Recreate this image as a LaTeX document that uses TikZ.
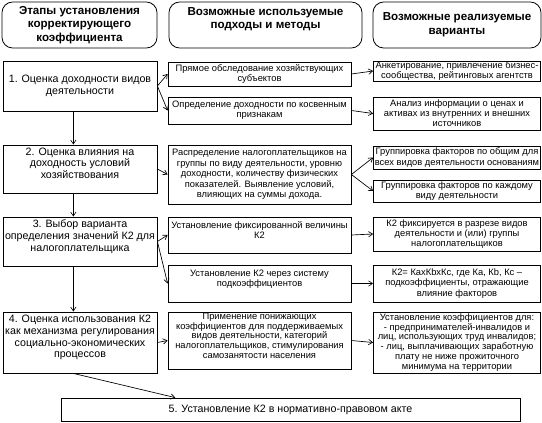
\documentclass[tikz,border=0pt]{standalone}
\usepackage{fontspec}
\setmainfont{Liberation Sans}
\usetikzlibrary{arrows.meta,positioning}

\tikzset{every picture/.style={line width=0.6pt}}
\tikzset{
  head/.style={draw, rounded corners=8pt, align=center, inner sep=1pt, minimum height=34.5pt, font=\bfseries\fontsize{8.7}{10.2}\selectfont},
  stage/.style={draw, align=center, inner sep=1pt, minimum width=115.5pt, font=\fontsize{8}{8.8}\selectfont},
  way/.style={draw, align=center, inner sep=1pt, minimum width=137.25pt, font=\fontsize{7}{7.8}\selectfont},
  variant/.style={draw, align=center, inner sep=1pt, minimum width=125.25pt, font=\fontsize{7}{7.6}\selectfont},
  arr/.style={-{Straight Barb[length=3pt,width=4pt]}, line width=0.5pt},
}

\begin{document}
\begin{tikzpicture}[x=0.75pt,y=0.75pt,yscale=-1,xscale=1]
\useasboundingbox (0,0) rectangle (542,422);

%Headers
\node [head, minimum width=116.25pt] (h1) at (79.5,25) {Этапы установления\\корректирующего\\коэффициента};
\node [head, minimum width=144.75pt] (h2) at (265.5,25) {Возможные используемые\\подходы и методы\\\mbox{}};
\node [head, minimum width=126pt] (h3) at (457,25) {Возможные реализуемые\\варианты};

%Stages
\node [stage, minimum height=37.5pt] (b1) at (80,86) {1. Оценка доходности видов\\деятельности};
\node [stage, minimum height=36pt] (b2) at (80,169) {2. Оценка влияния на\\доходность условий\\хозяйствования\\\mbox{}};
\node [stage, minimum height=36.75pt] (b3) at (80,241.5) {3. Выбор варианта\\определения значений К2 для\\налогоплательщика\\\mbox{}};
\node [stage, minimum height=45.75pt] (b4) at (80,342.5) {4. Оценка использования К2\\как механизма регулирования\\социально-экономических\\процессов\\\mbox{}};
\node [stage, minimum width=344.25pt, minimum height=17.25pt] (b5) at (290.5,409.5) {5. Установление К2 в нормативно-правовом акте};

%Approaches and methods
\node [way, minimum height=18pt] (m1) at (259.5,74) {Прямое обследование хозяйствующих\\субъектов};
\node [way, minimum height=20.25pt] (m2) at (259.5,110.5) {Определение доходности по косвенным\\признакам};
\node [way, minimum height=44.25pt] (m3) at (259.5,174.5) {Распределение налогоплательщиков на\\группы по виду деятельности, уровню\\доходности, количеству физических\\показателей. Выявление условий,\\влияющих на суммы дохода.};
\node [way, minimum height=27pt] (m4) at (259.5,235) {Установление фиксированной величины\\К2\\\mbox{}};
\node [way, minimum height=27.75pt] (m5) at (259.5,283.5) {Установление К2 через систему\\подкоэффициентов\\\mbox{}};
\node [way, minimum height=42.75pt, font=\fontsize{7}{7.2}\selectfont] (m6) at (259.5,340.5) {Применение понижающих\\коэффициентов для поддерживаемых\\видов деятельности, категорий\\налогоплательщиков, стимулирования\\самозанятости населения\\\mbox{}};

%Variants
\node [variant, minimum height=15pt, inner ysep=0pt] (r1) at (457,71) {Анкетирование, привлечение бизнес-\\сообщества, рейтинговых агентств};
\node [variant, minimum height=24.75pt] (r2) at (457,113.5) {Анализ информации о ценах и\\активах из внутренних и внешних\\источников};
\node [variant, minimum height=17.25pt] (r3) at (457,157.5) {Группировка факторов по общим для\\всех видов деятельности основаниям};
\node [variant, minimum height=16.5pt] (r4) at (457,191) {Группировка факторов по каждому\\виду деятельности};
\node [variant, minimum height=25.5pt] (r5) at (457,234) {К2 фиксируется в разрезе видов\\деятельности и (или) группы\\налогоплательщиков};
\node [variant, minimum height=27.75pt] (r6) at (457,283.5) {К2= КaxКbxКc, где Кa, Кb, Кc –\\подкоэффициенты, отражающие\\влияние факторов};
\node [variant, minimum height=45.75pt, font=\fontsize{7}{7.4}\selectfont] (r7) at (457,342.5) {Установление коэффициентов для:\\- предпринимателей-инвалидов и\\лиц, использующих труд инвалидов;\\- лиц, выплачивающих заработную\\плату не ниже прожиточного\\минимума на территории};

%Connectors
\draw [arr] (b1.east) -- (m1.west);
\draw [arr] (b1.east) -- (m2.west);
\draw [arr] (m1.east) -- (r1.west);
\draw [arr] (m2.east) -- (r2.west);
\draw [arr] ([xshift=-5pt]b1.south) -- ([xshift=-5pt]b2.north);
\draw [arr] (b2.east) -- (m3.west);
\draw [arr] (m3.east) -- (r3.west);
\draw [arr] (m3.east) -- (r4.west);
\draw [arr] ([xshift=-5pt]b2.south) -- ([xshift=-5pt]b3.north);
\draw [arr] (b3.east) -- (m4.west);
\draw [arr] (b3.east) -- (m5.west);
\draw [arr] (m4.east) -- (r5.west);
\draw [arr] (m5.east) -- (r6.west);
\draw [arr] ([xshift=-5pt]b3.south) -- ([xshift=-5pt]b4.north);
\draw [arr] (b4.east) -- (m6.west);
\draw [arr] (m6.east) -- (r7.west);
\draw [arr] ([xshift=-5pt]b4.south) -- ([xshift=86pt]b5.north west);

\end{tikzpicture}
\end{document}
